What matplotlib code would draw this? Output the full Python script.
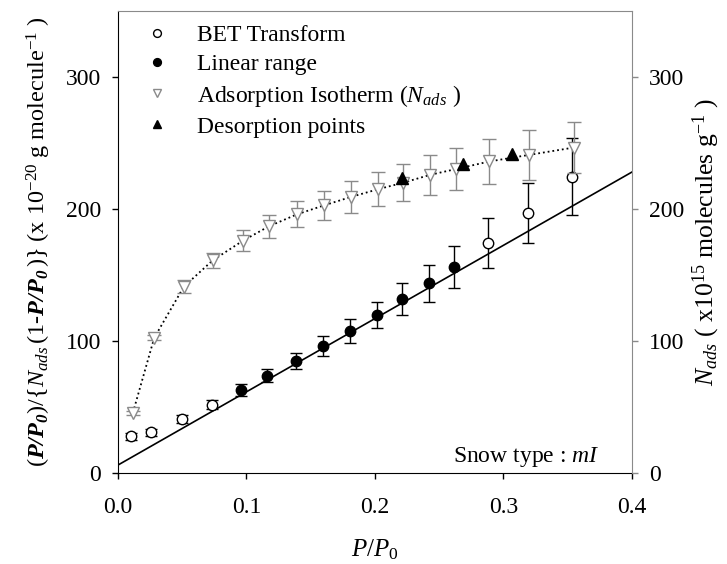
import numpy as np
import matplotlib
matplotlib.use("Agg")
import matplotlib.pyplot as plt

plt.rcParams['font.family'] = ['Liberation Serif', 'DejaVu Serif']
plt.rcParams['mathtext.fontset'] = 'custom'
plt.rcParams['mathtext.rm'] = 'Liberation Serif'
plt.rcParams['mathtext.it'] = 'Liberation Serif:italic'
plt.rcParams['mathtext.bf'] = 'Liberation Serif:bold'
plt.rcParams['mathtext.bfit'] = 'Liberation Serif:italic:bold'

# BET transform (open circles)
bet_x = [0.010, 0.026, 0.050, 0.073, 0.288, 0.319, 0.353]
bet_y = [27.7, 30.7, 40.7, 51.6, 174.0, 197.0, 224.5]
bet_err = [2.5, 2.5, 3.0, 3.5, 19, 23, 29]

# linear range (filled circles)
lin_x = [0.0957, 0.1162, 0.1383, 0.1597, 0.1805, 0.2014, 0.2213, 0.2419, 0.2617]
lin_y = [63.0, 73.6, 85.0, 96.0, 107.5, 119.5, 131.7, 143.9, 156.1]
lin_err = [4.5, 5, 6, 7.6, 9, 10, 12, 14, 16]

# adsorption isotherm N_ads (right axis)
iso_x = [0.0116, 0.0282, 0.0513, 0.0736, 0.0971, 0.1173, 0.1394, 0.1606,
         0.1812, 0.2025, 0.2220, 0.2430, 0.2628, 0.2890, 0.3200, 0.3545]
iso_y = [45.6, 102.4, 141.2, 161.0, 175.9, 186.8, 196.0, 202.8,
         209.1, 215.0, 219.9, 225.9, 230.2, 236.0, 241.0, 246.5]
iso_err = [1.5, 2, 5, 6, 8, 9, 10, 11, 12, 13, 14, 15, 16, 17, 18.7, 19.5]

# desorption points
des_x = [0.2213, 0.2685, 0.3070]
des_y = [223.5, 234.3, 241.7]

# linear fit
fit_a = 6.0
fit_b = 555.0

gray = '#8a8a8a'
fs = 17

fig = plt.figure(figsize=(7.27, 5.64), dpi=100)
ax = fig.add_axes([0.1623, 0.1614, 0.7070, 0.8191])
ax2 = ax.twinx()

fx = np.array([0.0, 0.4])
ax.plot(fx, fit_a + fit_b * fx, color='black', lw=1.2, zorder=2)

ax.errorbar(bet_x, bet_y, yerr=bet_err, fmt='o', ms=7.5, mfc='white', mec='black',
            mew=1.0, ecolor='black', elinewidth=1.0, capsize=4.5, capthick=1.0, zorder=3)
ax.errorbar(lin_x, lin_y, yerr=lin_err, fmt='o', ms=7.5, mfc='black', mec='black',
            ecolor='black', elinewidth=1.0, capsize=4.5, capthick=1.0, zorder=3)

ax2.plot(iso_x, iso_y, ls=':', color='black', lw=1.3, zorder=2)
ax2.errorbar(iso_x, iso_y, yerr=iso_err, fmt='v', ms=8.5, mfc='white', mec=gray,
             mew=1.0, ecolor=gray, elinewidth=1.0, capsize=5, capthick=1.0, zorder=3)
ax2.plot(des_x, des_y, '^', ms=8.5, color='black', zorder=4)

ax.set_xlim(0, 0.4)
ax.set_ylim(0, 350)
ax2.set_ylim(0, 350)
ax.set_xticks([0.0, 0.1, 0.2, 0.3, 0.4])
ax.set_xticklabels(['0.0', '0.1', '0.2', '0.3', '0.4'])
ax.set_yticks([0, 100, 200, 300])
ax2.set_yticks([0, 100, 200, 300])

ax.tick_params(axis='both', direction='out', length=4, width=1, labelsize=fs)
ax.tick_params(axis='x', pad=13)
ax.tick_params(axis='y', pad=8)
ax2.tick_params(axis='y', direction='out', length=4, width=1, labelsize=fs,
                color=gray, pad=8)
for s in ['top', 'right']:
    ax2.spines[s].set_color(gray)
    ax.spines[s].set_visible(False)
ax2.spines['left'].set_visible(False)
ax2.spines['bottom'].set_visible(False)

ax.set_xlabel(r'$\mathit{P/P_0}$', fontsize=fs + 1, labelpad=14)
ax.set_ylabel(r'$(\mathbfit{P/P_0})/\{\mathit{N_{ads}}\,(1$-$\mathbfit{P/P_0}\,)\}$ (x 10$^{-20}$ g molecule$^{-1}$ )',
              fontsize=fs + 0.5, labelpad=9)
ax2.set_ylabel(r'$\mathit{N_{ads}}$ ( x10$^{15}$ molecules g$^{-1}$ )',
               fontsize=fs + 1.5, rotation=90, labelpad=5)

ax.text(0.938, 0.024, r'Snow type : $\mathit{mI}$', transform=ax.transAxes,
        ha='right', va='baseline', fontsize=fs)

# legend handles
h1 = plt.Line2D([], [], ls='none', marker='o', ms=7.5, mfc='white', mec='black')
h2 = plt.Line2D([], [], ls='none', marker='o', ms=7.5, mfc='black', mec='black')
h3 = plt.Line2D([], [], ls='none', marker='v', ms=8.5, mfc='white', mec=gray)
h4 = plt.Line2D([], [], ls='none', marker='^', ms=8.5, mfc='black', mec='black')
ax2.legend([h1, h2, h3, h4],
           ['BET Transform', 'Linear range', r'Adsorption Isotherm ($\mathit{N_{ads}}$ )',
            'Desorption points'],
           loc='upper left', bbox_to_anchor=(0.0, 1.017), frameon=False,
           fontsize=fs, markerscale=0.75, handletextpad=0.95, labelspacing=0.32,
           handlelength=1.5)

fig.savefig('out.png', dpi=100)
